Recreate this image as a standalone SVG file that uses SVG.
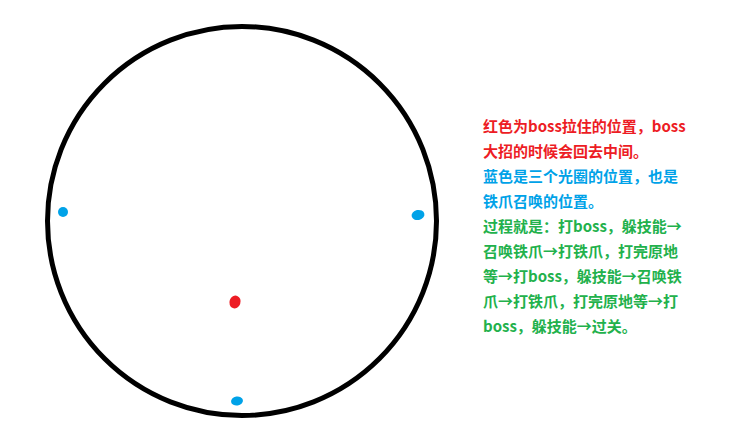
<svg xmlns="http://www.w3.org/2000/svg" width="738" height="430" viewBox="0 0 738 430">
<style>
.t{font-family:"Noto Sans CJK SC","Microsoft YaHei",sans-serif;font-size:15px;font-weight:bold}
.r{fill:#ED1C24}.b{fill:#00A2E8}.g{fill:#22B14C}
</style>
<rect width="738" height="430" fill="#FFFFFF"/>
<g id="arena">
<ellipse cx="242" cy="221" rx="194.5" ry="194.5" fill="none" stroke="#000000" stroke-width="5"/>
</g>
<g id="dots">
<ellipse id="blue-left" class="b" cx="63" cy="212" rx="5" ry="5"/>
<ellipse id="blue-right" class="b" cx="418" cy="215" rx="6.5" ry="5" transform="rotate(-12 418 215)"/>
<ellipse id="red-center" class="r" cx="235" cy="302" rx="5.5" ry="6.5" transform="rotate(20 235 302)"/>
<ellipse id="blue-bottom" class="b" cx="237" cy="401" rx="6" ry="4.5" transform="rotate(-10 237 401)"/>
</g>
<g id="notes" class="t">
<text class="r" x="483" y="132">红色为boss拉住的位置，boss</text>
<text class="r" x="483" y="157">大招的时候会回去中间。</text>
<text class="b" x="483" y="182">蓝色是三个光圈的位置，也是</text>
<text class="b" x="483" y="207">铁爪召唤的位置。</text>
<text class="g" x="483" y="232">过程就是：打boss，躲技能→</text>
<text class="g" x="483" y="257">召唤铁爪→打铁爪，打完原地</text>
<text class="g" x="483" y="282">等→打boss，躲技能→召唤铁</text>
<text class="g" x="483" y="307">爪→打铁爪，打完原地等→打</text>
<text class="g" x="483" y="332">boss，躲技能→过关。</text>
</g>
</svg>
